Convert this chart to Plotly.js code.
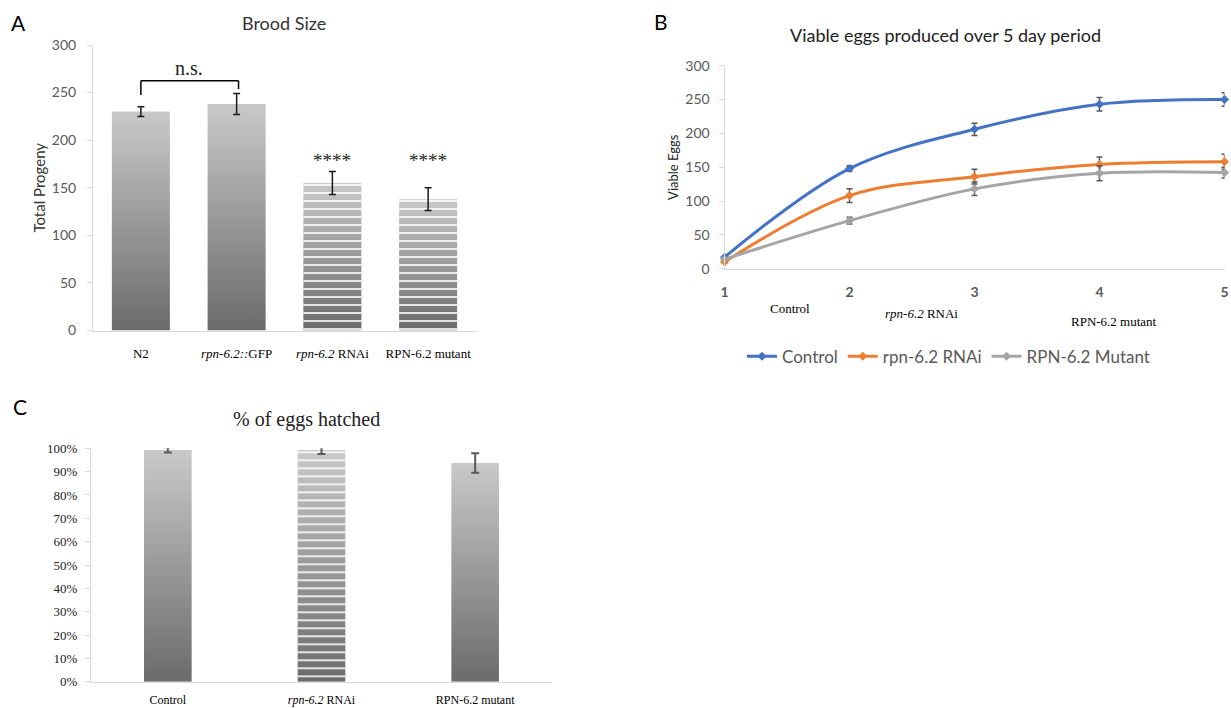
<!DOCTYPE html>
<html><head><meta charset="utf-8">
<script src="https://cdn.plot.ly/plotly-3.0.1.min.js"></script>
<style>html,body{margin:0;padding:0;background:#fff}#chart{width:1231px;height:708px}</style>
</head><body><div id="chart"></div>
<script>
// ---- Panel A: Brood size ----
const broodLabels = ['N2', '<i>rpn-6.2::</i>GFP', '<i>rpn-6.2</i> RNAi', 'RPN-6.2 mutant'];
const broodValues = [230, 238, 155, 138];
const broodErrors = [5, 11, 12, 12];
const broodStriped = [false, false, true, true];
const broodStars = ['', '', '****', '****'];

// ---- Panel B: viable eggs over 5 days ----
const days = [1, 2, 3, 4, 5];
const seriesNames = ['Control', 'rpn-6.2 RNAi', 'RPN-6.2 Mutant'];
const controlEggs = [17, 148, 206, 243, 250];
const controlErr = [2, 4, 9, 10, 10];
const rnaiEggs = [10, 108, 136, 154, 158];
const rnaiErr = [2, 10, 11, 11, 11];
const mutantEggs = [14, 71, 118, 141, 142];
const mutantErr = [2, 5, 10, 11, 8];
const groupLabels = ['Control', '<i>rpn-6.2</i> RNAi', 'RPN-6.2 mutant'];

// ---- Panel C: % eggs hatched ----
const hatchLabels = ['Control', '<i>rpn-6.2</i> RNAi', 'RPN-6.2 mutant'];
const hatchValues = [0.993, 0.993, 0.937];
const hatchErrors = [0.011, 0.017, 0.042];
const hatchStriped = [false, true, false];

const W = 1231, H = 708;
const px = v => v / W;
const py = v => 1 - v / H;
const GRAD = 'rgb(155, 155, 155)';
const grey = '#d9d9d9';
const lato = 'Lato, "Open Sans", sans-serif';
const serif = '"Liberation Serif", "Times New Roman", serif';

function barSet(labels, values, errors, striped, xa, ya, width, ecol, eth, ew) {
  return [
    {type: 'bar', x: labels, y: values, xaxis: xa, yaxis: ya, width: width,
     marker: {color: GRAD, line: {width: 0}}, showlegend: false, hoverinfo: 'skip'},
    {type: 'bar', x: labels, y: values.map((v, i) => striped[i] ? v : null), xaxis: xa, yaxis: ya, width: width,
     marker: {color: 'rgba(0,0,0,0)', line: {width: 0},
              pattern: {shape: '-', fgcolor: 'white', bgcolor: 'rgba(0,0,0,0)', fillmode: 'replace', size: 8, solidity: 0.2}},
     showlegend: false, hoverinfo: 'skip'},
    {type: 'scatter', mode: 'markers', x: labels, y: values, xaxis: xa, yaxis: ya,
     marker: {size: 1, color: 'rgba(0,0,0,0)'}, cliponaxis: false,
     error_y: {type: 'data', array: errors, color: ecol, thickness: eth, width: ew},
     showlegend: false, hoverinfo: 'skip'}
  ];
}

function lineTrace(name, y, err, color) {
  return {type: 'scatter', mode: 'lines+markers', name: name, x: days, y: y, xaxis: 'x2', yaxis: 'y2',
    line: {color: color, width: 3, shape: 'spline', smoothing: 1},
    marker: {symbol: 'diamond', size: 7, color: color},
    error_y: {type: 'data', array: err, color: '#595959', thickness: 1.5, width: 3},
    cliponaxis: false, hoverinfo: 'skip'};
}

const data = [
  ...barSet(broodLabels, broodValues, broodErrors, broodStriped, 'x', 'y', 0.606, '#1a1a1a', 1.5, 3.5),
  lineTrace(seriesNames[0], controlEggs, controlErr, '#4472C4'),
  lineTrace(seriesNames[1], rnaiEggs, rnaiErr, '#ED7D31'),
  lineTrace(seriesNames[2], mutantEggs, mutantErr, '#A5A5A5'),
  ...barSet(hatchLabels, hatchValues, hatchErrors, hatchStriped, 'x3', 'y3', 0.31, '#595959', 2, 4)
];

const annotations = [
  {text: 'A', x: px(18), y: py(23), font: {family: lato, size: 21, color: '#000'}},
  {text: 'B', x: px(661), y: py(22), font: {family: lato, size: 21, color: '#000'}},
  {text: 'C', x: px(20), y: py(407), font: {family: lato, size: 21, color: '#000'}},
  {text: 'Brood Size', x: px(284), y: py(23), font: {family: lato, size: 18, color: '#333'}},
  {text: 'Viable eggs produced over 5 day period', x: px(945), y: py(35), font: {family: lato, size: 18, color: '#222'}},
  {text: '% of eggs hatched', x: px(306), y: py(419), font: {family: serif, size: 20, color: '#222'}},
  {text: 'n.s.', x: 0.5, y: 276, xref: 'x', yref: 'y', font: {family: serif, size: 20, color: '#222'}},
  {text: groupLabels[0], x: px(790), y: py(309), font: {family: serif, size: 13, color: '#000'}},
  {text: groupLabels[1], x: px(921), y: py(313), font: {family: serif, size: 13, color: '#000'}},
  {text: groupLabels[2], x: px(1114), y: py(321), font: {family: serif, size: 13, color: '#000'}}
].map(a => Object.assign({xref: 'paper', yref: 'paper', showarrow: false, xanchor: 'center', yanchor: 'middle'}, a));

broodStars.forEach((s, i) => {
  if (s) annotations.push({text: s, x: broodLabels[i], y: 179, xref: 'x', yref: 'y',
    showarrow: false, xanchor: 'center', yanchor: 'middle', font: {family: serif, size: 19, color: '#222'}});
});

const bracket = {color: '#000', width: 1.5};
const shapes = [
  {type: 'line', xref: 'x', yref: 'y', x0: 0, x1: 0, y0: 247.5, y1: 262.5, line: bracket},
  {type: 'line', xref: 'x', yref: 'y', x0: 0, x1: 1.02, y0: 262.5, y1: 262.5, line: bracket},
  {type: 'line', xref: 'x', yref: 'y', x0: 1.02, x1: 1.02, y0: 262.5, y1: 253.8, line: bracket}
];

const yTickFont = {family: lato, size: 14, color: '#595959'};
const layout = {
  width: W, height: H, margin: {l: 0, r: 0, t: 0, b: 0},
  paper_bgcolor: '#fff', plot_bgcolor: 'rgba(0,0,0,0)',
  barmode: 'overlay', showlegend: true,
  font: {family: lato},
  xaxis: {domain: [px(93), px(476)], anchor: 'y', type: 'category', range: [-0.5, 3.5],
          showline: true, linecolor: grey, linewidth: 1.5, ticks: '', showgrid: false,
          tickfont: {family: serif, size: 13, color: '#000'}, ticklabelstandoff: 10},
  yaxis: {domain: [py(330.5), py(45)], anchor: 'x', range: [0, 300], dtick: 50, showgrid: false, zeroline: false,
          showline: true, linecolor: grey, linewidth: 1, ticks: 'outside', ticklen: 5, tickcolor: grey,
          tickfont: yTickFont, ticklabelstandoff: 8,
          title: {text: 'Total Progeny', font: {family: lato, size: 15, color: '#333'}, standoff: 2}},
  xaxis2: {domain: [px(724.5), px(1224.5)], anchor: 'y2', range: [1, 5], tickvals: days, showgrid: false, zeroline: false,
           showline: true, linecolor: grey, linewidth: 1.5, ticks: '',
           tickfont: {family: lato, size: 14, color: '#595959', weight: 'bold'}, ticklabelstandoff: 10},
  yaxis2: {domain: [py(268.7), py(65.7)], anchor: 'x2', range: [0, 300], dtick: 50, showgrid: false, zeroline: false,
           showline: true, linecolor: grey, linewidth: 1, ticks: 'outside', ticklen: 5, tickcolor: grey,
           tickfont: yTickFont, ticklabelstandoff: 6,
           title: {text: 'Viable Eggs', font: {family: lato, size: 13, color: '#222'}, standoff: 3}},
  xaxis3: {domain: [px(91), px(552)], anchor: 'y3', type: 'category', range: [-0.5, 2.5],
           showline: true, linecolor: grey, linewidth: 1.5, ticks: '', showgrid: false,
           tickfont: {family: serif, size: 12, color: '#000'}, ticklabelstandoff: 6},
  yaxis3: {domain: [py(681.7), py(448.3)], anchor: 'x3', range: [0, 1], dtick: 0.1, tickformat: '.0%', showgrid: false, zeroline: false,
           showline: true, linecolor: grey, linewidth: 1, ticks: 'outside', ticklen: 5, tickcolor: grey,
           tickfont: {family: serif, size: 13, color: '#222'}, ticklabelstandoff: 5},
  legend: {orientation: 'h', x: px(742), xanchor: 'left', y: py(356.7), yanchor: 'middle',
           font: {family: lato, size: 17, color: '#595959'}, bgcolor: 'rgba(0,0,0,0)', itemwidth: 30},
  annotations: annotations,
  shapes: shapes
};

const gd = document.getElementById('chart');
Plotly.newPlot(gd, data, layout, {staticPlot: true, displayModeBar: false}).then(function () {
  const ns = 'http://www.w3.org/2000/svg';
  const svg = gd.querySelector('svg.main-svg');
  let defs = svg.querySelector('defs');
  if (!defs) { defs = document.createElementNS(ns, 'defs'); svg.insertBefore(defs, svg.firstChild); }
  const lg = document.createElementNS(ns, 'linearGradient');
  lg.setAttribute('id', 'barGrad');
  lg.setAttribute('x1', '0'); lg.setAttribute('y1', '0'); lg.setAttribute('x2', '0'); lg.setAttribute('y2', '1');
  [['0', '#c9c9c9'], ['1', '#6b6b6b']].forEach(function (s) {
    const st = document.createElementNS(ns, 'stop');
    st.setAttribute('offset', s[0]); st.setAttribute('stop-color', s[1]);
    lg.appendChild(st);
  });
  defs.appendChild(lg);
  gd.querySelectorAll('.barlayer path').forEach(function (p) {
    if (p.style.fill === GRAD) p.style.fill = 'url(#barGrad)';
  });
});
</script>
</body></html>
